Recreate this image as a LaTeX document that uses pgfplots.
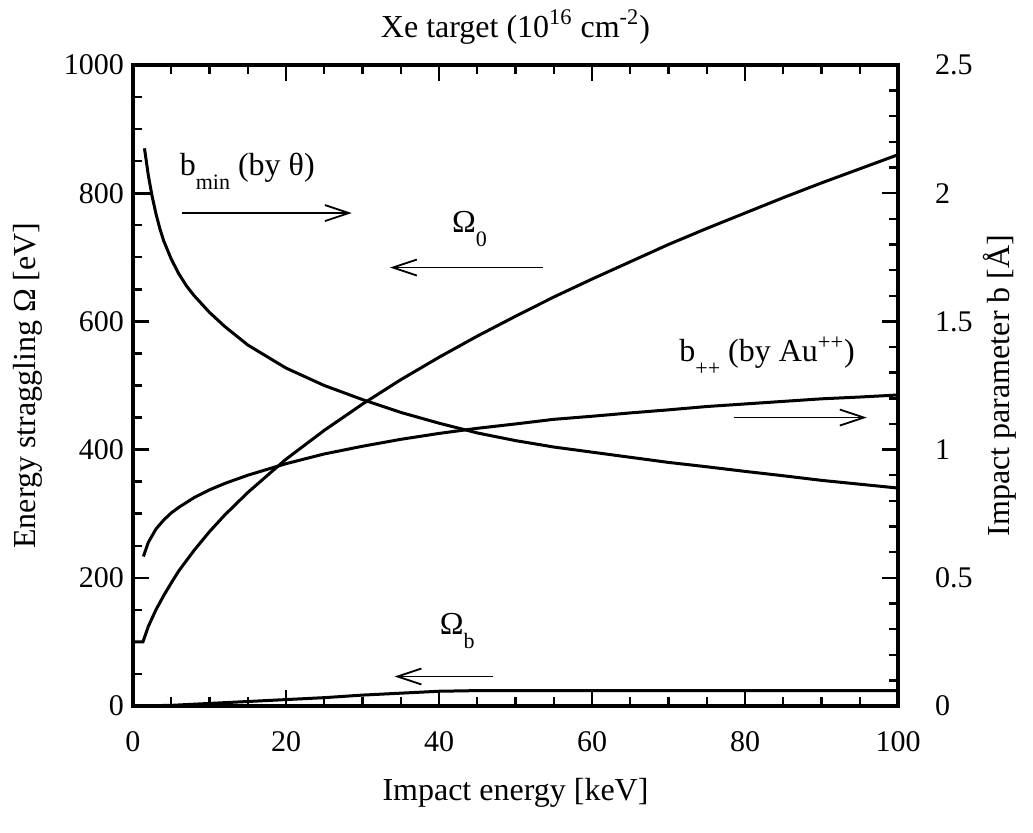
\documentclass[border=0pt]{standalone}
\usepackage{fontspec}
\setmainfont{Liberation Serif}
\usepackage{pgfplots}
\pgfplotsset{compat=1.18}
\usetikzlibrary{arrows.meta}

% lowered small index in the annotations
\newcommand{\lo}[1]{\raisebox{-7pt}{\fontsize{11}{11}\selectfont #1}}

\pgfplotsset{
  frame/.style={
    scale only axis, width=382.5pt, height=320.5pt,
    xmin=0, xmax=100,
    tick align=inside,
    major tick length=8pt, minor tick length=4.5pt,
    every tick/.style={black, line width=1.2pt},
    axis line style={line width=1.6pt},
    tick label style={font=\fontsize{15}{15}\selectfont},
    /pgf/number format/assume math mode=true,
    /pgf/number format/1000 sep={},
  },
  curve/.style={black, line width=1.5pt, no markers},
}
\tikzset{
  pointer/.style={black, line width=0.9pt, -{Straight Barb[length=12pt,width=8pt]}},
}

\begin{document}
\begin{tikzpicture}
% left scale: energy straggling
\begin{axis}[frame,
  ymin=0, ymax=1000,
  xtick={0,20,40,60,80,100}, minor x tick num=3,
  ytick={0,200,400,600,800,1000}, minor y tick num=3,
  xtick pos=both, ytick pos=left,
  xticklabel style={yshift=-9pt},
  yticklabel style={xshift=-1pt},
]
% Omega_0
\addplot[curve] coordinates {
  (0,100) (1.3,100) (2,124) (3,150) (4,172) (5,192) (6,211) (8,243)
  (10,272) (12,298) (15,333) (20,385) (25,430) (30,471) (35,509)
  (40,544) (45,577) (50,608) (55,638) (60,666) (65,693) (70,720)
  (75,745) (80,769) (85,793) (90,816) (95,838) (100,860)
};
% Omega_b
\addplot[curve] coordinates {
  (0,0) (5,1) (10,4) (15,7) (20,10) (25,13) (30,17) (35,20) (40,23)
  (45,24) (50,24) (60,24) (70,24) (80,24) (90,24) (100,24)
};
\node[anchor=base west, font=\fontsize{16}{16}\selectfont] at (axis cs:5.2,828) {b\lo{min} (by θ)};
\node[anchor=base west, font=\fontsize{16}{16}\selectfont] at (axis cs:40.8,739) {Ω\lo{0}};
\node[anchor=base west, font=\fontsize{16}{16}\selectfont] at (axis cs:70.5,537) {b\lo{++} (by Au\textsuperscript{++})};
\node[anchor=base west, font=\fontsize{16}{16}\selectfont] at (axis cs:39.2,111) {Ω\lo{b}};
\draw[pointer] (axis cs:6.4,769) -- (axis cs:28.6,769);
\draw[pointer] (axis cs:53.6,684) -- (axis cs:33.6,684);
\draw[pointer] (axis cs:78.5,450) -- (axis cs:95.9,450);
\draw[pointer] (axis cs:47.1,46) -- (axis cs:34.2,46);
\end{axis}

% right scale: impact parameter
\begin{axis}[frame,
  ymin=0, ymax=2.5,
  axis x line=none, axis y line*=right,
  ytick={0,0.5,1,1.5,2,2.5}, minor y tick num=4,
  yticklabel style={xshift=15pt},
]
% b_min (by theta)
\addplot[curve] coordinates {
  (1.5,2.175) (2,2.07) (2.5,1.988) (3,1.92) (3.5,1.863) (4,1.815)
  (5,1.743) (6,1.685) (7,1.638) (8,1.60) (10,1.535) (12,1.48)
  (15,1.408) (20,1.318) (25,1.25) (30,1.195) (35,1.145) (40,1.103)
  (45,1.065) (50,1.035) (55,1.01) (60,0.99) (65,0.97) (70,0.95)
  (75,0.933) (80,0.915) (85,0.898) (90,0.88) (95,0.865) (100,0.85)
};
\addplot[curve] coordinates {(0,2.0) (2.47,2.0)};
% b_++ (by Au++)
\addplot[curve] coordinates {
  (1.36,0.583) (2,0.638) (3,0.69) (4,0.725) (5,0.753) (6,0.775)
  (8,0.813) (10,0.843) (12,0.868) (15,0.90) (20,0.945) (25,0.983)
  (30,1.013) (35,1.04) (40,1.063) (45,1.083) (50,1.10) (55,1.118)
  (60,1.13) (65,1.143) (70,1.155) (75,1.168) (80,1.178) (85,1.188)
  (90,1.198) (95,1.205) (100,1.213)
};
\end{axis}

\node[font=\fontsize{16}{16}\selectfont] at ([yshift=19pt]current axis.north) {Xe target (10\textsuperscript{16} cm\textsuperscript{-2})};
\node[font=\fontsize{16}{16}\selectfont] at ([yshift=-43.5pt]current axis.south) {Impact energy [keV]};
\node[rotate=90, font=\fontsize{16}{16}\selectfont] at ([xshift=-52.5pt]current axis.west) {Energy straggling Ω [eV]};
\node[rotate=90, font=\fontsize{16}{16}\selectfont] at ([xshift=51pt]current axis.east) {Impact parameter b [Å]};

\pgfresetboundingbox
\path[use as bounding box] ([xshift=-66.5pt,yshift=-63.5pt]current axis.south west)
  rectangle ([xshift=67.5pt,yshift=32.5pt]current axis.north east);
\end{tikzpicture}
\end{document}
